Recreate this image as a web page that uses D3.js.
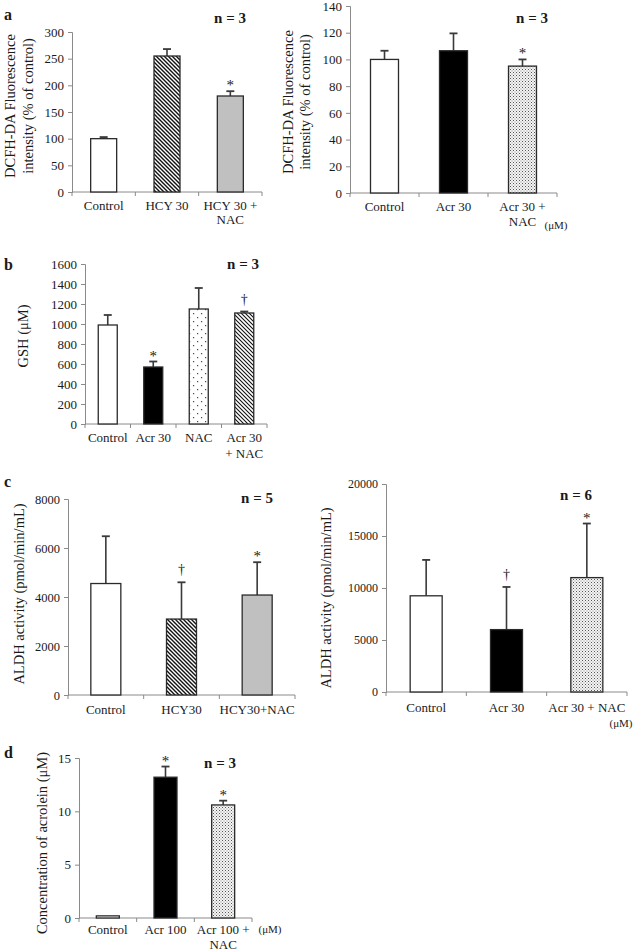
<!DOCTYPE html>
<html><head><meta charset="utf-8">
<script src="https://cdn.jsdelivr.net/npm/d3@7"></script>
<style>
body{margin:0;background:#fff}
svg{display:block}
text{font-family:"Liberation Serif","Times New Roman",serif;fill:#1a1a1a}
</style>
</head><body>
<svg id="chart" width="638" height="952"></svg>
<script>
// ---------------- DATA ----------------
// Panel a (left): DCFH-DA, HCY
const aLeftCategories = ["Control", "HCY 30", "HCY 30 +\nNAC"];
const aLeftValues = [100, 255, 180];
const aLeftErrors = [3, 13, 9];
const aLeftMarks = ["", "", "*"];
const aLeftTicks = [0, 50, 100, 150, 200, 250, 300];

// Panel a (right): DCFH-DA, Acr
const aRightCategories = ["Control", "Acr 30", "Acr 30 +\nNAC"];
const aRightValues = [100, 106.5, 95];
const aRightErrors = [6.5, 13, 5];
const aRightMarks = ["", "", "*"];
const aRightTicks = [0, 20, 40, 60, 80, 100, 120, 140];

// Panel b: GSH
const bCategories = ["Control", "Acr 30", "NAC", "Acr 30\n+ NAC"];
const bValues = [990, 570, 1150, 1110];
const bErrors = [100, 55, 210, 15];
const bMarks = ["", "*", "", "†"];
const bTicks = [0, 200, 400, 600, 800, 1000, 1200, 1400, 1600];

// Panel c (left): ALDH, HCY
const cLeftCategories = ["Control", "HCY30", "HCY30+NAC"];
const cLeftValues = [4550, 3100, 4080];
const cLeftErrors = [1930, 1500, 1340];
const cLeftMarks = ["", "†", "*"];
const cLeftTicks = [0, 2000, 4000, 6000, 8000];

// Panel c (right): ALDH, Acr
const cRightCategories = ["Control", "Acr 30", "Acr 30 + NAC"];
const cRightValues = [9250, 6000, 11000];
const cRightErrors = [3450, 4100, 5200];
const cRightMarks = ["", "†", "*"];
const cRightTicks = [0, 5000, 10000, 15000, 20000];

// Panel d: acrolein
const dCategories = ["Control", "Acr 100", "Acr 100 +\nNAC"];
const dValues = [0.2, 13.2, 10.6];
const dErrors = [0, 1.0, 0.4];
const dMarks = ["", "*", "*"];
const dTicks = [0, 5, 10, 15];

// ---------------- LAYOUT ----------------
const panels = [
  {cats: aLeftCategories, vals: aLeftValues, errs: aLeftErrors, marks: aLeftMarks, ticks: aLeftTicks,
   fills: ["white", "diag", "gray"], x0: 72, x1: 262, y0: 192, yTop: 32, bw: 26, tickFont: 13,
   ylabel: ["DCFH-DA Fluorescence", "intensity (% of control)"], ylx: [15, 33], yly: 106,
   n: "n = 3", nx: 230, ny: 23, letter: "a", ly: 20, unit: null, labOff: 18, lh: 14},
  {cats: aRightCategories, vals: aRightValues, errs: aRightErrors, marks: aRightMarks, ticks: aRightTicks,
   fills: ["white", "black", "fineDots"], x0: 350, x1: 557, y0: 193, yTop: 6, bw: 28, tickFont: 13,
   ylabel: ["DCFH-DA Fluorescence", "intensity (% of control)"], ylx: [293, 310], yly: 102,
   n: "n = 3", nx: 532, ny: 23, letter: null, unit: {x: 556, y: 229}, labOff: 18, lh: 15},
  {cats: bCategories, vals: bValues, errs: bErrors, marks: bMarks, ticks: bTicks,
   fills: ["white", "black", "sparseDots", "diagThin"], x0: 85, x1: 267, y0: 424, yTop: 264, bw: 19, tickFont: 13,
   ylabel: ["GSH  (μM)"], ylx: [28], yly: 336,
   n: "n = 3", nx: 243, ny: 269, letter: "b", ly: 270, unit: null, labOff: 18, lh: 16},
  {cats: cLeftCategories, vals: cLeftValues, errs: cLeftErrors, marks: cLeftMarks, ticks: cLeftTicks,
   fills: ["white", "diag", "gray"], x0: 68, x1: 295, y0: 695, yTop: 499, bw: 30, tickFont: 12.5,
   ylabel: ["ALDH  activity (pmol/min/mL)"], ylx: [24], yly: 594,
   n: "n = 5", nx: 257, ny: 503, letter: "c", ly: 487, unit: null, labOff: 19, lh: 14},
  {cats: cRightCategories, vals: cRightValues, errs: cRightErrors, marks: cRightMarks, ticks: cRightTicks,
   fills: ["white", "black", "fineDots"], x0: 386, x1: 627, y0: 692, yTop: 484, bw: 32, tickFont: 12,
   ylabel: ["ALDH  activity (pmol/min/mL)"], ylx: [331], yly: 598,
   n: "n = 6", nx: 576, ny: 500, letter: null, unit: {x: 621, y: 727}, labOff: 20, lh: 14},
  {cats: dCategories, vals: dValues, errs: dErrors, marks: dMarks, ticks: dTicks,
   fills: ["white", "black", "fineDots"], x0: 79, x1: 252, y0: 918, yTop: 758, bw: 23, tickFont: 13,
   ylabel: ["Concentration of acrolein  (μM)"], ylx: [47], yly: 843,
   n: "n = 3", nx: 220, ny: 768, letter: "d", ly: 758, unit: {x: 270, y: 933}, labOff: 16, lh: 14.5}
];

// ---------------- DRAW ----------------
const svg = d3.select("#chart");
const defs = svg.append("defs");

// diagonal stripes "\\"
function diagPattern(id, size, sw) {
  const p = defs.append("pattern").attr("id", id).attr("patternUnits", "userSpaceOnUse")
    .attr("width", size).attr("height", size);
  p.append("rect").attr("width", size).attr("height", size).attr("fill", "#fff");
  p.append("path").attr("d", `M-1,-1 L${size+1},${size+1} M-1,${size-1} L1,${size+1} M${size-1},-1 L${size+1},1`)
    .attr("stroke", "#111").attr("stroke-width", sw);
}
diagPattern("diag", 4, 1.4);
diagPattern("diagThin", 4, 1.1);

// fine dots (checker-like)
{
  const p = defs.append("pattern").attr("id", "fineDots").attr("patternUnits", "userSpaceOnUse")
    .attr("width", 3).attr("height", 3);
  p.append("rect").attr("width", 3).attr("height", 3).attr("fill", "#f4f4f4");
  p.append("rect").attr("x", 0).attr("y", 0).attr("width", 1).attr("height", 1).attr("fill", "#555");
  p.append("rect").attr("x", 1.5).attr("y", 1.5).attr("width", 1).attr("height", 1).attr("fill", "#888");
}
// sparse dots
{
  const p = defs.append("pattern").attr("id", "sparseDots").attr("patternUnits", "userSpaceOnUse")
    .attr("width", 8).attr("height", 8);
  p.append("rect").attr("width", 8).attr("height", 8).attr("fill", "#fff");
  p.append("rect").attr("x", 1).attr("y", 1).attr("width", 1.2).attr("height", 1.2).attr("fill", "#444");
  p.append("rect").attr("x", 5).attr("y", 5).attr("width", 1.2).attr("height", 1.2).attr("fill", "#444");
}

const fillOf = f => ({white: "#fff", black: "#000", gray: "#c0c0c0"}[f] || `url(#${f})`);
const axisColor = "#8a8a8a";

panels.forEach(P => {
  const g = svg.append("g");
  const y = d3.scaleLinear().domain([0, d3.max(P.ticks)]).range([P.y0, P.yTop]);
  const x = d3.scaleBand().domain(P.cats).range([P.x0, P.x1]);

  // y axis
  const yAxis = d3.axisLeft(y).tickValues(P.ticks).tickSize(4).tickPadding(4).tickFormat(d3.format("d"));
  const ya = g.append("g").attr("transform", `translate(${P.x0},0)`).call(yAxis);
  ya.attr("font-family", null);
  ya.select(".domain").attr("stroke", axisColor);
  ya.selectAll(".tick line").attr("stroke", axisColor);
  ya.selectAll(".tick text").attr("font-size", P.tickFont).attr("fill", "#1a1a1a");

  // x axis line with boundary ticks
  g.append("line").attr("x1", P.x0).attr("x2", P.x1).attr("y1", P.y0).attr("y2", P.y0).attr("stroke", axisColor);
  const bounds = P.cats.map(c => x(c)).concat([P.x1]);
  g.selectAll(".xt").data(bounds).join("line")
    .attr("x1", d => d).attr("x2", d => d).attr("y1", P.y0).attr("y2", P.y0 + 4).attr("stroke", axisColor);

  const cx = c => x(c) + x.bandwidth() / 2;

  // error bars
  P.cats.forEach((c, i) => {
    if (P.errs[i] > 0) {
      const yt = y(P.vals[i] + P.errs[i]);
      g.append("line").attr("x1", cx(c)).attr("x2", cx(c)).attr("y1", y(P.vals[i])).attr("y2", yt)
        .attr("stroke", "#3a3a3a").attr("stroke-width", 1.6);
      g.append("line").attr("x1", cx(c) - 4).attr("x2", cx(c) + 4).attr("y1", yt).attr("y2", yt)
        .attr("stroke", "#3a3a3a").attr("stroke-width", 1.8);
    }
  });

  // bars
  g.selectAll(".bar").data(P.cats).join("rect")
    .attr("x", c => cx(c) - P.bw / 2).attr("width", P.bw)
    .attr("y", (c, i) => y(P.vals[i])).attr("height", (c, i) => P.y0 - y(P.vals[i]))
    .attr("fill", (c, i) => fillOf(P.fills[i]))
    .attr("stroke", "#2a2a2a").attr("stroke-width", 1.3);

  // significance marks
  P.cats.forEach((c, i) => {
    const m = P.marks[i];
    if (!m) return;
    const yt = y(P.vals[i] + P.errs[i]);
    g.append("text").attr("x", cx(c)).attr("y", m === "*" ? yt - 1 : yt - 8)
      .attr("text-anchor", "middle").attr("font-size", m === "*" ? 15 : 14).attr("fill", "#1a1a1a").text(m);
  });

  // category labels
  P.cats.forEach(c => {
    const lines = c.split("\n");
    const t = g.append("text").attr("text-anchor", "middle").attr("font-size", 13);
    lines.forEach((ln, k) => {
      t.append("tspan").attr("x", cx(c)).attr("y", P.y0 + P.labOff + k * P.lh).text(ln);
    });
  });

  // unit
  if (P.unit) {
    g.append("text").attr("x", P.unit.x).attr("y", P.unit.y).attr("text-anchor", "middle")
      .attr("font-size", 11).text("(μM)");
  }

  // y label
  P.ylabel.forEach((ln, k) => {
    g.append("text").attr("transform", `translate(${P.ylx[k]},${P.yly}) rotate(-90)`)
      .attr("text-anchor", "middle").attr("font-size", 14.5).text(ln);
  });

  // n =
  g.append("text").attr("x", P.nx).attr("y", P.ny).attr("text-anchor", "middle")
    .attr("font-size", 15).attr("font-weight", "bold").text(P.n);

  // panel letter
  if (P.letter) {
    g.append("text").attr("x", 4).attr("y", P.ly).attr("font-size", 16).attr("font-weight", "bold").text(P.letter);
  }
});
</script>
</body></html>
